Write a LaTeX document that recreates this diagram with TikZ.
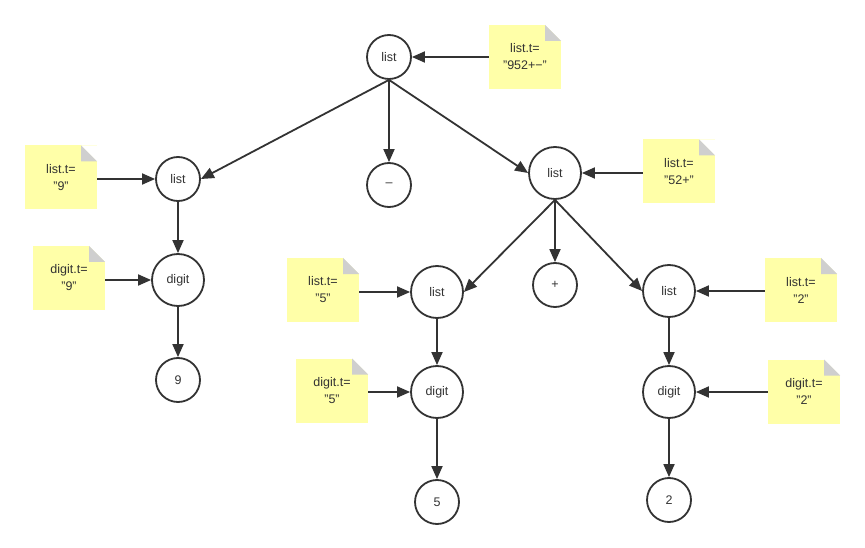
\documentclass[tikz,border=0pt]{standalone}
\usepackage{fontspec}
\setmainfont{Liberation Sans}
\usetikzlibrary{arrows.meta}
\definecolor{ink}{HTML}{333333}
\definecolor{noteY}{HTML}{FFFFA8}
\definecolor{foldG}{HTML}{CFCFCF}
\tikzset{
  circ/.style={circle, draw=ink, line width=1.8pt, fill=white, inner sep=0pt, text=ink, font=\fontsize{12.5}{14}\selectfont},
  sn/.style={circ, minimum size=44pt},
  bn/.style={circ, minimum size=52pt},
  notebox/.style={rectangle, minimum width=72pt, minimum height=64pt, inner sep=0pt, fill=noteY, align=center, text=ink,
    font=\fontsize{12.5}{17}\selectfont,
    path picture={
      \fill[white] ([xshift=-16pt]path picture bounding box.north east) -- (path picture bounding box.north east) -- ([yshift=-16pt]path picture bounding box.north east) -- cycle;
      \fill[foldG] ([xshift=-16pt]path picture bounding box.north east) -- ([xshift=-16pt,yshift=-16pt]path picture bounding box.north east) -- ([yshift=-16pt]path picture bounding box.north east) -- cycle;
    }},
  arr/.style={draw=ink, line width=1.8pt, -{Triangle[length=13pt,width=11pt]}}
}
\begin{document}
\begin{tikzpicture}[x=1pt,y=-1pt]
\useasboundingbox (0,0) rectangle (865,548);
% tree nodes
\node[sn] (root) at (389,57) {list};
\node[sn] (listL) at (178,179) {list};
\node[sn] (minus) at (389,185) {–};
\node[bn] (listR) at (555,173) {list};
\node[bn] (digitL) at (178,280) {digit};
\node[sn] (nine) at (178,380) {9};
\node[bn] (list5) at (437,292) {list};
\node[sn] (plus) at (555,285) {+};
\node[bn] (list2) at (669,291) {list};
\node[bn] (digit5) at (437,392) {digit};
\node[bn] (digit2) at (669,392) {digit};
\node[sn] (five) at (437,502) {5};
\node[sn] (two) at (669,500) {2};
% notes
\node[notebox] (nRoot) at (525,57) {list.t=\\"952+−"};
\node[notebox] (nL) at (61,177.5) {list.t=\\"9"};
\node[notebox] (nD9) at (69,278) {digit.t=\\"9"};
\node[notebox] (nR) at (679,171.5) {list.t=\\"52+"};
\node[notebox] (n5) at (323,290) {list.t=\\"5"};
\node[notebox] (nD5) at (332,390.5) {digit.t=\\"5"};
\node[notebox] (n2) at (801,290) {list.t=\\"2"};
\node[notebox] (nD2) at (804,391.5) {digit.t=\\"2"};
% tree edges
\draw[arr] (root.south) -- (listL.east);
\draw[arr] (root.south) -- (minus.north);
\draw[arr] (root.south) -- (listR.west);
\draw[arr] (listL) -- (digitL);
\draw[arr] (digitL) -- (nine);
\draw[arr] (listR.south) -- (list5.east);
\draw[arr] (listR.south) -- (plus.north);
\draw[arr] (listR.south) -- (list2.west);
\draw[arr] (list5) -- (digit5);
\draw[arr] (digit5) -- (five);
\draw[arr] (list2) -- (digit2);
\draw[arr] (digit2) -- (two);
% note edges
\draw[arr] (nRoot.west |- root) -- (root);
\draw[arr] (nL.east |- listL) -- (listL);
\draw[arr] (nD9.east |- digitL) -- (digitL);
\draw[arr] (nR.west |- listR) -- (listR);
\draw[arr] (n5.east |- list5) -- (list5);
\draw[arr] (nD5.east |- digit5) -- (digit5);
\draw[arr] (n2.west |- list2) -- (list2);
\draw[arr] (nD2.west |- digit2) -- (digit2);
\end{tikzpicture}
\end{document}
